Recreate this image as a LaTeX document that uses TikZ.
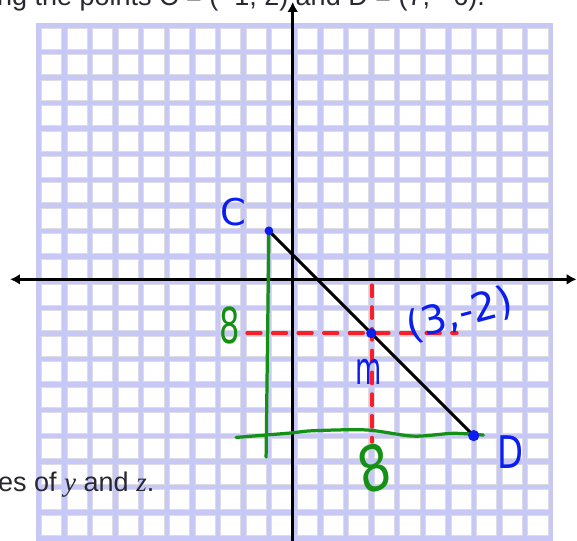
\documentclass[tikz,border=0pt]{standalone}
\usepackage{fontspec}
\setmainfont{Liberation Sans}
\newfontfamily\handfont{DejaVu Sans}
\newfontfamily\timesfont{Liberation Serif}
\usepackage{tikz}
\usetikzlibrary{arrows.meta,positioning}
\definecolor{gridlav}{RGB}{200,200,246}
\definecolor{cellrim}{RGB}{220,220,226}
\definecolor{penblue}{RGB}{10,30,240}
\definecolor{penred}{RGB}{250,30,40}
\definecolor{pengreen}{RGB}{20,145,20}
\definecolor{printgray}{RGB}{40,40,50}

\begin{document}
\begin{tikzpicture}[x=1cm,y=1cm,>={Latex[length=11pt,width=12pt]},
  axis/.style={line width=3.5pt},
  pen/.style={line width=3.6pt,line cap=round,line join=round},
  hand/.style={font=\handfont\fontsize{#1}{#1}\selectfont,inner sep=0pt},
  printed/.style={anchor=base west,inner sep=0pt,text=printgray,font=\fontsize{30}{30}\selectfont}]
\clip (-11.504,-10.078) rectangle (11.035,11.016);
\fill[white] (-11.504,-10.078) rectangle (11.035,11.016);
% grid
\fill[gridlav] (-10.105,-10.105) rectangle (10.105,10.105);
\foreach \i in {-10,...,9}
  \foreach \j in {-10,...,9}
    \filldraw[fill=white,draw=cellrim,line width=0.6pt] (\i+0.105,\j+0.105) rectangle (\i+0.895,\j+0.895);
\node[printed] (prompt) at (-11.62,10.80) {ng the points C = (−1, 2) and D = (7, −6).};
\node[printed] (task) at (-11.58,-8.20) {es of {\timesfont\itshape y} and {\timesfont\itshape z}.};
% axes
\coordinate (xl) at (-11.11,0.105);
\coordinate (xr) at (11.02,0.105);
\coordinate (yb) at (-0.07,-10.3);
\coordinate (yt) at (-0.07,10.94);
\draw[axis,<->] (xl) -- (xr);
\draw[axis,->] (yb) -- (yt);
% points and segment
\coordinate (C) at (-1,2);
\coordinate (D) at (7,-6);
\coordinate (M) at (3,-2);
\draw[line width=3.3pt] (C) -- (D);
% red guides through the midpoint
\coordinate (rl) at (-1.86,-1.99);
\coordinate (rr) at (6.35,-1.99);
\coordinate (rt) at (3.03,-0.12);
\coordinate (rb) at (3.03,-6.25);
\draw[pen,penred,dash pattern=on 0.55cm off 0.45cm] (rl) -- (rr);
\draw[pen,penred,dash pattern=on 0.45cm off 0.4cm] (rt) -- (rb);
% green legs
\coordinate (gb) at (-1.11,-6.84);
\draw[pen,pengreen] (C) -- (gb);
\draw[pen,pengreen] plot[smooth] coordinates {(-2.28,-6.07) (-0.18,-5.90) (0.72,-5.81) (2.82,-5.78) (4.64,-6.02) (6.2,-5.91) (7.38,-5.98)};
\fill[penblue] (C) circle (0.17);
\fill[penblue] (D) circle (0.22);
\fill[penblue] (M) circle (0.2);
% labels
\node[hand=41pt,text=penblue] (labC) at (-2.40,2.73) {C};
\node[hand=50pt,text=penblue,xscale=0.75] (labD) at (8.42,-6.64) {D};
\node[hand=50pt,text=penblue,xscale=0.6] (labM) at (2.91,-3.52) {m};
\node[hand=44pt,text=penblue,rotate=15] (labMid) at (6.45,-1.27) {(3,-2)};
\node[hand=55pt,text=pengreen,xscale=0.65] (legY) at (-2.52,-1.68) {8};
\node[hand=70pt,text=pengreen,xscale=0.8,rotate=15] (legX) at (3.10,-7.27) {8};
\end{tikzpicture}
\end{document}
